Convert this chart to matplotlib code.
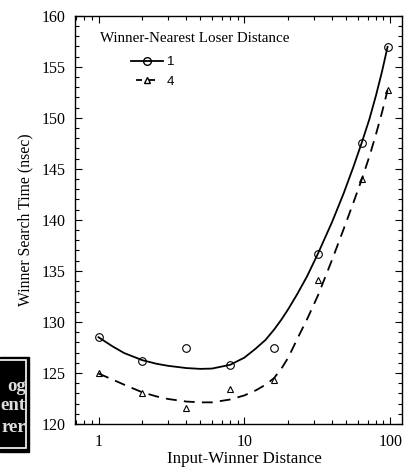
import matplotlib.pyplot as plt
from matplotlib.lines import Line2D
from matplotlib.ticker import MultipleLocator, FixedLocator, NullFormatter

# input-winner distance
dist = [1, 2, 4, 8, 16, 32, 64, 96]
# winner search time (nsec), nearest loser distance 1 and 4
t_d1 = [128.5, 126.2, 127.45, 125.8, 127.45, 136.7, 147.5, 156.9]
t_d4 = [124.95, 123.0, 121.6, 123.4, 124.3, 134.1, 144.0, 152.7]

# smooth fitted curves
curve_x = [1, 1.25, 1.5, 2, 2.5, 3, 4, 5, 6, 8, 10, 12, 14, 16, 18, 20, 23, 27,
           32, 40, 48, 56, 64, 72, 80, 88, 96]
curve_d1 = [128.5, 127.6, 126.95, 126.25, 125.9, 125.7, 125.48, 125.4, 125.43,
            125.8, 126.5, 127.4, 128.25, 129.25, 130.25, 131.25, 132.7, 134.5,
            136.7, 139.8, 142.6, 145.2, 147.6, 149.85, 152.2, 154.55, 156.95]
curve_d4 = [124.95, 124.35, 123.85, 123.1, 122.7, 122.45, 122.2, 122.12, 122.12,
            122.4, 122.8, 123.3, 123.85, 124.5, 125.45, 126.5, 128.3, 130.3,
            132.6, 136.1, 139.1, 141.7, 144.0, 146.2, 148.4, 150.55, 152.7]

series_labels = ['1', '4']
legend_title = 'Winner-Nearest Loser Distance'

serif = 'Liberation Serif'
sans = 'Liberation Sans'

fig = plt.figure(figsize=(4.10, 4.73), dpi=100)
ax = fig.add_axes([75 / 410, 49 / 473, 326.7 / 410, 408.3 / 473])

ax.plot(curve_x, curve_d1, color='black', lw=1.3)
ax.plot(curve_x, curve_d4, color='black', lw=1.3, dashes=(6, 4))
ax.plot(dist, t_d1, 'o', mfc='none', mec='black', ms=5.5, mew=0.8)
ax.plot(dist, t_d4, '^', mfc='none', mec='black', ms=5, mew=0.8)

ax.set_xscale('log')
ax.set_xlim(0.69, 120)
ax.set_ylim(120, 160)
ax.yaxis.set_major_locator(MultipleLocator(5))
ax.yaxis.set_minor_locator(MultipleLocator(1))
ax.xaxis.set_major_locator(FixedLocator([1, 10, 100]))
ax.set_xticklabels(['1', '10', '100'])
minors = [m * 10 ** e for e in (-1, 0, 1) for m in range(2, 10)]
ax.xaxis.set_minor_locator(FixedLocator(minors))
ax.xaxis.set_minor_formatter(NullFormatter())

ax.tick_params(which='both', direction='in', top=True, right=True,
               labelsize=11.5, width=0.8)
ax.tick_params(which='major', length=5, pad=7)
ax.tick_params(which='minor', length=3)
for lab in ax.get_xticklabels() + ax.get_yticklabels():
    lab.set_family(serif)
for s in ax.spines.values():
    s.set_linewidth(1.0)

ax.set_xlabel('Input-Winner Distance', family=serif, fontsize=12.2)
ax.xaxis.set_label_coords(0.52, -0.066)
ax.set_ylabel('Winner Search Time (nsec)', family=serif, fontsize=11.3, labelpad=6)

ax.text(0.076, 0.944, legend_title, transform=ax.transAxes, family=serif,
        fontsize=10.8, va='center', ha='left')
handles = [
    Line2D([], [], color='black', lw=1.3, marker='o', mfc='none', mec='black', ms=5.5),
    Line2D([], [], color='black', lw=1.3, linestyle=(18.8, (3.3, 3.9, 3.3, 11.1)),
           marker='^', mfc='none', mec='black', ms=5),
]
leg = ax.legend(handles, series_labels, loc='upper left',
                bbox_to_anchor=(0.135, 0.93), frameon=False, handlelength=2.4,
                handletextpad=0.3, labelspacing=0.55, prop={'family': sans, 'size': 9.5})

# cropped logo box at lower left of the image
fig.patches.append(plt.Rectangle((0, 21 / 473), 29 / 410, 95 / 473,
                                 transform=fig.transFigure, color='black', zorder=5))
fig.patches.append(plt.Rectangle((-2 / 410, 25 / 473), 28 / 410, 88 / 473,
                                 transform=fig.transFigure, fill=False, ec='white',
                                 lw=1.2, zorder=6))
for word, yy in zip(['og', 'ent', 'rer'], [386, 406, 427]):
    fig.text(26 / 410, 1 - yy / 473, word, color='#dddddd', family=serif,
             weight='bold', fontsize=13.5, ha='right', va='center', zorder=7)

fig.savefig('out.png', dpi=100)
